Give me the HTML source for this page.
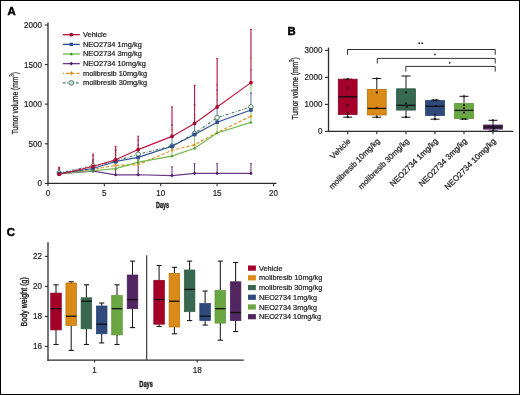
<!DOCTYPE html>
<html><head><meta charset="utf-8"><style>
html,body{margin:0;padding:0;background:#fff;}
body{width:520px;height:395px;overflow:hidden;}
svg{display:block;font-family:"Liberation Sans", sans-serif;}
</style></head><body>
<svg width="520" height="395" viewBox="0 0 520 395">
<rect x="0" y="0" width="520" height="395" fill="#fff"/>
<line x1="48" y1="22.5" x2="48" y2="184" stroke="#2c2c2c" stroke-width="1.3" />
<line x1="47.4" y1="183.4" x2="276.5" y2="183.4" stroke="#2c2c2c" stroke-width="1.3" />
<line x1="44.8" y1="183.4" x2="48" y2="183.4" stroke="#2c2c2c" stroke-width="1.1" />
<line x1="44.8" y1="143.8" x2="48" y2="143.8" stroke="#2c2c2c" stroke-width="1.1" />
<line x1="44.8" y1="104.1" x2="48" y2="104.1" stroke="#2c2c2c" stroke-width="1.1" />
<line x1="44.8" y1="64.6" x2="48" y2="64.6" stroke="#2c2c2c" stroke-width="1.1" />
<line x1="44.8" y1="25.0" x2="48" y2="25.0" stroke="#2c2c2c" stroke-width="1.1" />
<line x1="47.92" y1="183.4" x2="47.92" y2="186.3" stroke="#2c2c2c" stroke-width="1.1" />
<line x1="104.32" y1="183.4" x2="104.32" y2="186.3" stroke="#2c2c2c" stroke-width="1.1" />
<line x1="160.72" y1="183.4" x2="160.72" y2="186.3" stroke="#2c2c2c" stroke-width="1.1" />
<line x1="217.12" y1="183.4" x2="217.12" y2="186.3" stroke="#2c2c2c" stroke-width="1.1" />
<line x1="273.52" y1="183.4" x2="273.52" y2="186.3" stroke="#2c2c2c" stroke-width="1.1" />
<line x1="59.2" y1="173.8" x2="59.2" y2="168" stroke="#603278" stroke-width="1.0" />
<line x1="58.2" y1="168" x2="60.2" y2="168" stroke="#6a3a86" stroke-width="1.0" />
<line x1="93.03999999999999" y1="171.2" x2="93.03999999999999" y2="160" stroke="#603278" stroke-width="1.0" />
<line x1="92.03999999999999" y1="160" x2="94.03999999999999" y2="160" stroke="#6a3a86" stroke-width="1.0" />
<line x1="115.6" y1="174.8" x2="115.6" y2="163" stroke="#603278" stroke-width="1.0" />
<line x1="114.6" y1="163" x2="116.6" y2="163" stroke="#6a3a86" stroke-width="1.0" />
<line x1="138.16" y1="174.8" x2="138.16" y2="160" stroke="#603278" stroke-width="1.0" />
<line x1="137.16" y1="160" x2="139.16" y2="160" stroke="#6a3a86" stroke-width="1.0" />
<line x1="172.0" y1="175.6" x2="172.0" y2="166.9" stroke="#603278" stroke-width="1.0" />
<line x1="171.0" y1="166.9" x2="173.0" y2="166.9" stroke="#6a3a86" stroke-width="1.0" />
<line x1="194.56" y1="173.4" x2="194.56" y2="163.7" stroke="#603278" stroke-width="1.0" />
<line x1="193.56" y1="163.7" x2="195.56" y2="163.7" stroke="#6a3a86" stroke-width="1.0" />
<line x1="217.12" y1="173.4" x2="217.12" y2="163.7" stroke="#603278" stroke-width="1.0" />
<line x1="216.12" y1="163.7" x2="218.12" y2="163.7" stroke="#6a3a86" stroke-width="1.0" />
<line x1="250.95999999999998" y1="173.4" x2="250.95999999999998" y2="163.7" stroke="#603278" stroke-width="1.0" />
<line x1="249.95999999999998" y1="163.7" x2="251.95999999999998" y2="163.7" stroke="#6a3a86" stroke-width="1.0" />
<line x1="58.300000000000004" y1="170" x2="60.1" y2="170" stroke="#e0901a" stroke-width="1.0" />
<line x1="92.13999999999999" y1="160" x2="93.94" y2="160" stroke="#e0901a" stroke-width="1.0" />
<line x1="114.69999999999999" y1="152" x2="116.5" y2="152" stroke="#e0901a" stroke-width="1.0" />
<line x1="138.16" y1="164.6" x2="138.16" y2="162.4" stroke="#e0901a" stroke-width="1.0" />
<line x1="137.26" y1="148" x2="139.06" y2="148" stroke="#e0901a" stroke-width="1.0" />
<line x1="171.1" y1="130" x2="172.9" y2="130" stroke="#e0901a" stroke-width="1.0" />
<line x1="193.66" y1="115" x2="195.46" y2="115" stroke="#e0901a" stroke-width="1.0" />
<line x1="216.22" y1="94" x2="218.02" y2="94" stroke="#e0901a" stroke-width="1.0" />
<line x1="250.05999999999997" y1="58" x2="251.85999999999999" y2="58" stroke="#e0901a" stroke-width="1.0" />
<line x1="58.300000000000004" y1="168" x2="60.1" y2="168" stroke="#4a7a62" stroke-width="1.0" />
<line x1="92.13999999999999" y1="156" x2="93.94" y2="156" stroke="#4a7a62" stroke-width="1.0" />
<line x1="114.69999999999999" y1="150" x2="116.5" y2="150" stroke="#4a7a62" stroke-width="1.0" />
<line x1="137.26" y1="140" x2="139.06" y2="140" stroke="#4a7a62" stroke-width="1.0" />
<line x1="171.1" y1="125" x2="172.9" y2="125" stroke="#4a7a62" stroke-width="1.0" />
<line x1="193.66" y1="105" x2="195.46" y2="105" stroke="#4a7a62" stroke-width="1.0" />
<line x1="216.22" y1="85" x2="218.02" y2="85" stroke="#4a7a62" stroke-width="1.0" />
<line x1="250.95999999999998" y1="84.7" x2="250.95999999999998" y2="82.89999999999999" stroke="#6a9080" stroke-width="1.0" />
<line x1="250.05999999999997" y1="70" x2="251.85999999999999" y2="70" stroke="#4a7a62" stroke-width="1.0" />
<line x1="58.300000000000004" y1="170" x2="60.1" y2="170" stroke="#72b84a" stroke-width="1.0" />
<line x1="93.03999999999999" y1="170.8" x2="93.03999999999999" y2="168.8" stroke="#8cc870" stroke-width="1.0" />
<line x1="92.13999999999999" y1="162" x2="93.94" y2="162" stroke="#72b84a" stroke-width="1.0" />
<line x1="115.6" y1="168.6" x2="115.6" y2="161.8" stroke="#8cc870" stroke-width="1.0" />
<line x1="114.69999999999999" y1="155" x2="116.5" y2="155" stroke="#72b84a" stroke-width="1.0" />
<line x1="138.16" y1="162.1" x2="138.16" y2="157.70000000000002" stroke="#8cc870" stroke-width="1.0" />
<line x1="137.26" y1="150" x2="139.06" y2="150" stroke="#72b84a" stroke-width="1.0" />
<line x1="172.0" y1="156.1" x2="172.0" y2="146.5" stroke="#8cc870" stroke-width="1.0" />
<line x1="171.1" y1="135" x2="172.9" y2="135" stroke="#72b84a" stroke-width="1.0" />
<line x1="194.56" y1="148.3" x2="194.56" y2="134.8" stroke="#8cc870" stroke-width="1.0" />
<line x1="193.66" y1="118" x2="195.46" y2="118" stroke="#72b84a" stroke-width="1.0" />
<line x1="217.12" y1="133.0" x2="217.12" y2="122.5" stroke="#8cc870" stroke-width="1.0" />
<line x1="216.22" y1="100" x2="218.02" y2="100" stroke="#72b84a" stroke-width="1.0" />
<line x1="250.95999999999998" y1="92.7" x2="250.95999999999998" y2="85" stroke="#8cc870" stroke-width="1.0" />
<line x1="250.95999999999998" y1="122.4" x2="250.95999999999998" y2="110.3" stroke="#8cc870" stroke-width="1.0" />
<line x1="250.05999999999997" y1="85" x2="251.85999999999999" y2="85" stroke="#72b84a" stroke-width="1.0" />
<line x1="58.300000000000004" y1="169" x2="60.1" y2="169" stroke="#2d4f8f" stroke-width="1.0" />
<line x1="93.03999999999999" y1="168.5" x2="93.03999999999999" y2="166.8" stroke="#5a76aa" stroke-width="1.0" />
<line x1="92.13999999999999" y1="160" x2="93.94" y2="160" stroke="#2d4f8f" stroke-width="1.0" />
<line x1="115.6" y1="161.5" x2="115.6" y2="160.10000000000002" stroke="#5a76aa" stroke-width="1.0" />
<line x1="114.69999999999999" y1="150" x2="116.5" y2="150" stroke="#2d4f8f" stroke-width="1.0" />
<line x1="138.16" y1="157.4" x2="138.16" y2="149.9" stroke="#5a76aa" stroke-width="1.0" />
<line x1="137.26" y1="145" x2="139.06" y2="145" stroke="#2d4f8f" stroke-width="1.0" />
<line x1="172.0" y1="146.2" x2="172.0" y2="136.70000000000002" stroke="#5a76aa" stroke-width="1.0" />
<line x1="171.1" y1="125" x2="172.9" y2="125" stroke="#2d4f8f" stroke-width="1.0" />
<line x1="194.56" y1="134.5" x2="194.56" y2="123.7" stroke="#5a76aa" stroke-width="1.0" />
<line x1="193.66" y1="105" x2="195.46" y2="105" stroke="#2d4f8f" stroke-width="1.0" />
<line x1="217.12" y1="122.2" x2="217.12" y2="107.3" stroke="#5a76aa" stroke-width="1.0" />
<line x1="216.22" y1="90" x2="218.02" y2="90" stroke="#2d4f8f" stroke-width="1.0" />
<line x1="250.95999999999998" y1="110.0" x2="250.95999999999998" y2="93" stroke="#5a76aa" stroke-width="1.0" />
<line x1="250.05999999999997" y1="93" x2="251.85999999999999" y2="93" stroke="#2d4f8f" stroke-width="1.0" />
<line x1="59.2" y1="174.3" x2="59.2" y2="167.3" stroke="#bc1a48" stroke-width="1.15" />
<line x1="58.2" y1="167.3" x2="60.2" y2="167.3" stroke="#c0143c" stroke-width="1.0" />
<line x1="93.03999999999999" y1="166.5" x2="93.03999999999999" y2="154.2" stroke="#bc1a48" stroke-width="1.15" />
<line x1="92.03999999999999" y1="154.2" x2="94.03999999999999" y2="154.2" stroke="#c0143c" stroke-width="1.0" />
<line x1="115.6" y1="159.8" x2="115.6" y2="146.3" stroke="#bc1a48" stroke-width="1.15" />
<line x1="114.6" y1="146.3" x2="116.6" y2="146.3" stroke="#c0143c" stroke-width="1.0" />
<line x1="138.16" y1="149.6" x2="138.16" y2="136.2" stroke="#bc1a48" stroke-width="1.15" />
<line x1="137.16" y1="136.2" x2="139.16" y2="136.2" stroke="#c0143c" stroke-width="1.0" />
<line x1="172.0" y1="136.4" x2="172.0" y2="106.9" stroke="#bc1a48" stroke-width="1.15" />
<line x1="171.0" y1="106.9" x2="173.0" y2="106.9" stroke="#c0143c" stroke-width="1.0" />
<line x1="194.56" y1="123.4" x2="194.56" y2="85.3" stroke="#bc1a48" stroke-width="1.15" />
<line x1="193.56" y1="85.3" x2="195.56" y2="85.3" stroke="#c0143c" stroke-width="1.0" />
<line x1="217.12" y1="107.0" x2="217.12" y2="58.7" stroke="#bc1a48" stroke-width="1.15" />
<line x1="216.12" y1="58.7" x2="218.12" y2="58.7" stroke="#c0143c" stroke-width="1.0" />
<line x1="250.95999999999998" y1="82.6" x2="250.95999999999998" y2="29.5" stroke="#bc1a48" stroke-width="1.15" />
<line x1="249.95999999999998" y1="29.5" x2="251.95999999999998" y2="29.5" stroke="#c0143c" stroke-width="1.0" />
<polyline points="59.20,173.8 93.04,171.2 115.60,174.8 138.16,174.8 172.00,175.6 194.56,173.4 217.12,173.4 250.96,173.4" fill="none" stroke="#6a3a86" stroke-width="1.15"/>
<path d="M57.5,173.8 L59.2,172.0 L60.900000000000006,173.8 L59.2,175.60000000000002Z" fill="#4a1a62"/>
<path d="M91.33999999999999,171.2 L93.03999999999999,169.39999999999998 L94.74,171.2 L93.03999999999999,173.0Z" fill="#4a1a62"/>
<path d="M113.89999999999999,174.8 L115.6,173.0 L117.3,174.8 L115.6,176.60000000000002Z" fill="#4a1a62"/>
<path d="M136.46,174.8 L138.16,173.0 L139.85999999999999,174.8 L138.16,176.60000000000002Z" fill="#4a1a62"/>
<path d="M170.3,175.6 L172.0,173.79999999999998 L173.7,175.6 L172.0,177.4Z" fill="#4a1a62"/>
<path d="M192.86,173.4 L194.56,171.6 L196.26,173.4 L194.56,175.20000000000002Z" fill="#4a1a62"/>
<path d="M215.42000000000002,173.4 L217.12,171.6 L218.82,173.4 L217.12,175.20000000000002Z" fill="#4a1a62"/>
<path d="M249.26,173.4 L250.95999999999998,171.6 L252.65999999999997,173.4 L250.95999999999998,175.20000000000002Z" fill="#4a1a62"/>
<polyline points="59.20,173.8 93.04,169.4 115.60,165.4 138.16,164.6 172.00,150.3 194.56,144.9 217.12,132.5 250.96,116.3" fill="none" stroke="#e0901a" stroke-width="1.15" stroke-dasharray="3.2,2.05"/>
<path d="M57.7,173.8 L59.2,172.3 L60.7,173.8 L59.2,175.3Z" fill="#e0901a"/>
<path d="M91.53999999999999,169.4 L93.03999999999999,167.9 L94.53999999999999,169.4 L93.03999999999999,170.9Z" fill="#e0901a"/>
<path d="M114.1,165.4 L115.6,163.9 L117.1,165.4 L115.6,166.9Z" fill="#e0901a"/>
<path d="M136.66,164.6 L138.16,163.1 L139.66,164.6 L138.16,166.1Z" fill="#e0901a"/>
<path d="M170.5,150.3 L172.0,148.8 L173.5,150.3 L172.0,151.8Z" fill="#e0901a"/>
<path d="M193.06,144.9 L194.56,143.4 L196.06,144.9 L194.56,146.4Z" fill="#e0901a"/>
<path d="M215.62,132.5 L217.12,131.0 L218.62,132.5 L217.12,134.0Z" fill="#e0901a"/>
<path d="M249.45999999999998,116.3 L250.95999999999998,114.8 L252.45999999999998,116.3 L250.95999999999998,117.8Z" fill="#e0901a"/>
<polyline points="59.20,173.0 93.04,165.9 115.60,161.0 138.16,154.2 172.00,146.0 194.56,133.5 217.12,117.6 250.96,106.9" fill="none" stroke="#4a7a62" stroke-width="1.15" stroke-dasharray="2.6,1.6,0.8,1.6"/>
<circle cx="59.2" cy="173.0" r="2.3" fill="#eef4f0" stroke="#4a7a62" stroke-width="0.9"/>
<circle cx="93.03999999999999" cy="165.9" r="2.3" fill="#eef4f0" stroke="#4a7a62" stroke-width="0.9"/>
<circle cx="115.6" cy="161.0" r="2.3" fill="#eef4f0" stroke="#4a7a62" stroke-width="0.9"/>
<circle cx="138.16" cy="154.2" r="2.3" fill="#eef4f0" stroke="#4a7a62" stroke-width="0.9"/>
<circle cx="172.0" cy="146.0" r="2.3" fill="#eef4f0" stroke="#4a7a62" stroke-width="0.9"/>
<circle cx="194.56" cy="133.5" r="2.3" fill="#eef4f0" stroke="#4a7a62" stroke-width="0.9"/>
<circle cx="217.12" cy="117.6" r="2.3" fill="#eef4f0" stroke="#4a7a62" stroke-width="0.9"/>
<circle cx="250.95999999999998" cy="106.9" r="2.3" fill="#eef4f0" stroke="#4a7a62" stroke-width="0.9"/>
<polyline points="59.20,173.8 93.04,170.8 115.60,168.6 138.16,162.1 172.00,156.1 194.56,148.3 217.12,133.0 250.96,122.4" fill="none" stroke="#72b84a" stroke-width="1.15"/>
<path d="M57.6,175.0 L59.2,172.20000000000002 L60.800000000000004,175.0Z" fill="#4a9a30"/>
<path d="M91.44,172.0 L93.03999999999999,169.20000000000002 L94.63999999999999,172.0Z" fill="#4a9a30"/>
<path d="M114.0,169.79999999999998 L115.6,167.0 L117.19999999999999,169.79999999999998Z" fill="#4a9a30"/>
<path d="M136.56,163.29999999999998 L138.16,160.5 L139.76,163.29999999999998Z" fill="#4a9a30"/>
<path d="M170.4,157.29999999999998 L172.0,154.5 L173.6,157.29999999999998Z" fill="#4a9a30"/>
<path d="M192.96,149.5 L194.56,146.70000000000002 L196.16,149.5Z" fill="#4a9a30"/>
<path d="M215.52,134.2 L217.12,131.4 L218.72,134.2Z" fill="#4a9a30"/>
<path d="M249.35999999999999,123.60000000000001 L250.95999999999998,120.80000000000001 L252.55999999999997,123.60000000000001Z" fill="#4a9a30"/>
<polyline points="59.20,173.6 93.04,168.5 115.60,161.5 138.16,157.4 172.00,146.2 194.56,134.5 217.12,122.2 250.96,110.0" fill="none" stroke="#2d4f8f" stroke-width="1.15"/>
<rect x="57.400000000000006" y="171.79999999999998" width="3.6" height="3.6" fill="#2d4f8f"/>
<rect x="91.24" y="166.7" width="3.6" height="3.6" fill="#2d4f8f"/>
<rect x="113.8" y="159.7" width="3.6" height="3.6" fill="#2d4f8f"/>
<rect x="136.35999999999999" y="155.6" width="3.6" height="3.6" fill="#2d4f8f"/>
<rect x="170.2" y="144.39999999999998" width="3.6" height="3.6" fill="#2d4f8f"/>
<rect x="192.76" y="132.7" width="3.6" height="3.6" fill="#2d4f8f"/>
<rect x="215.32" y="120.4" width="3.6" height="3.6" fill="#2d4f8f"/>
<rect x="249.15999999999997" y="108.2" width="3.6" height="3.6" fill="#2d4f8f"/>
<polyline points="59.20,174.3 93.04,166.5 115.60,159.8 138.16,149.6 172.00,136.4 194.56,123.4 217.12,107.0 250.96,82.6" fill="none" stroke="#c0143c" stroke-width="1.15"/>
<circle cx="59.2" cy="174.3" r="1.9" fill="#ac0430"/>
<circle cx="93.03999999999999" cy="166.5" r="1.9" fill="#ac0430"/>
<circle cx="115.6" cy="159.8" r="1.9" fill="#ac0430"/>
<circle cx="138.16" cy="149.6" r="1.9" fill="#ac0430"/>
<circle cx="172.0" cy="136.4" r="1.9" fill="#ac0430"/>
<circle cx="194.56" cy="123.4" r="1.9" fill="#ac0430"/>
<circle cx="217.12" cy="107.0" r="1.9" fill="#ac0430"/>
<circle cx="250.95999999999998" cy="82.6" r="1.9" fill="#ac0430"/>
<line x1="62.8" y1="34.7" x2="79.8" y2="34.7" stroke="#c0143c" stroke-width="1.35"/>
<circle cx="71.3" cy="34.7" r="1.9" fill="#ac0430"/>
<line x1="62.8" y1="44.4" x2="79.8" y2="44.4" stroke="#2d4f8f" stroke-width="1.35"/>
<rect x="69.6" y="42.699999999999996" width="3.4" height="3.4" fill="#2d4f8f"/>
<line x1="62.8" y1="54.0" x2="79.8" y2="54.0" stroke="#72b84a" stroke-width="1.35"/>
<path d="M69.6,55.3 L71.3,52.3 L73.0,55.3Z" fill="#3f8f2a"/>
<line x1="62.8" y1="63.6" x2="79.8" y2="63.6" stroke="#6a3a86" stroke-width="1.35"/>
<path d="M69.6,63.6 L71.3,61.800000000000004 L73.0,63.6 L71.3,65.4Z" fill="#4a1a62"/>
<line x1="62.8" y1="73.3" x2="79.8" y2="73.3" stroke="#e0901a" stroke-width="1.35" stroke-dasharray="3.2,2.05" stroke-dashoffset="2.05"/>
<path d="M69.7,73.3 L71.3,71.1 L72.89999999999999,73.3 L71.3,75.5Z" fill="#e0901a"/>
<line x1="62.8" y1="82.9" x2="79.8" y2="82.9" stroke="#4a7a62" stroke-width="1.35" stroke-dasharray="2.6,1.6,0.8,1.6"/>
<circle cx="71.3" cy="82.9" r="2.4" fill="#c8dccf" stroke="#4a7a62" stroke-width="0.9"/>
<line x1="328.5" y1="47.6" x2="328.5" y2="132" stroke="#2c2c2c" stroke-width="1.3" />
<line x1="327.9" y1="131.4" x2="513.4" y2="131.4" stroke="#2c2c2c" stroke-width="1.3" />
<line x1="325" y1="131.4" x2="328.5" y2="131.4" stroke="#2c2c2c" stroke-width="1.1" />
<line x1="325" y1="104.4" x2="328.5" y2="104.4" stroke="#2c2c2c" stroke-width="1.1" />
<line x1="325" y1="77.4" x2="328.5" y2="77.4" stroke="#2c2c2c" stroke-width="1.1" />
<line x1="325" y1="50.4" x2="328.5" y2="50.4" stroke="#2c2c2c" stroke-width="1.1" />
<line x1="347.7" y1="131.4" x2="347.7" y2="134.2" stroke="#2c2c2c" stroke-width="1.1" />
<line x1="376.8" y1="131.4" x2="376.8" y2="134.2" stroke="#2c2c2c" stroke-width="1.1" />
<line x1="406.0" y1="131.4" x2="406.0" y2="134.2" stroke="#2c2c2c" stroke-width="1.1" />
<line x1="435.0" y1="131.4" x2="435.0" y2="134.2" stroke="#2c2c2c" stroke-width="1.1" />
<line x1="464.0" y1="131.4" x2="464.0" y2="134.2" stroke="#2c2c2c" stroke-width="1.1" />
<line x1="493.0" y1="131.4" x2="493.0" y2="134.2" stroke="#2c2c2c" stroke-width="1.1" />
<line x1="347.7" y1="79.2" x2="347.7" y2="79.2" stroke="#1a1a1a" stroke-width="1.0" />
<line x1="347.7" y1="114.5" x2="347.7" y2="117.2" stroke="#1a1a1a" stroke-width="1.0" />
<line x1="343.2" y1="79.2" x2="352.2" y2="79.2" stroke="#1a1a1a" stroke-width="1.05" />
<line x1="343.2" y1="117.2" x2="352.2" y2="117.2" stroke="#1a1a1a" stroke-width="1.05" />
<rect x="338.3" y="79.2" width="18.8" height="35.3" fill="#a3002a" stroke="#8a0022" stroke-width="0.8"/>
<line x1="338.3" y1="96.8" x2="357.09999999999997" y2="96.8" stroke="#111" stroke-width="1.3" />
<circle cx="347.7" cy="79.2" r="1.1" fill="#111"/>
<circle cx="347.7" cy="88.1" r="1.1" fill="#111"/>
<circle cx="347.7" cy="105.3" r="1.1" fill="#111"/>
<circle cx="347.7" cy="113.5" r="1.1" fill="#111"/>
<circle cx="347.7" cy="117.2" r="1.1" fill="#111"/>
<line x1="376.8" y1="78.5" x2="376.8" y2="89.5" stroke="#1a1a1a" stroke-width="1.0" />
<line x1="376.8" y1="115.0" x2="376.8" y2="117.2" stroke="#1a1a1a" stroke-width="1.0" />
<line x1="372.3" y1="78.5" x2="381.3" y2="78.5" stroke="#1a1a1a" stroke-width="1.05" />
<line x1="372.3" y1="117.2" x2="381.3" y2="117.2" stroke="#1a1a1a" stroke-width="1.05" />
<rect x="367.40000000000003" y="89.5" width="18.8" height="25.5" fill="#da8a16" stroke="#b87010" stroke-width="0.8"/>
<line x1="367.40000000000003" y1="108.4" x2="386.2" y2="108.4" stroke="#111" stroke-width="1.3" />
<circle cx="376.8" cy="92.4" r="1.1" fill="#111"/>
<circle cx="376.8" cy="107.8" r="1.1" fill="#111"/>
<circle cx="376.8" cy="78.5" r="1.1" fill="#111"/>
<circle cx="376.8" cy="117.2" r="1.1" fill="#111"/>
<line x1="406.0" y1="76.0" x2="406.0" y2="88.8" stroke="#1a1a1a" stroke-width="1.0" />
<line x1="406.0" y1="110.1" x2="406.0" y2="117.2" stroke="#1a1a1a" stroke-width="1.0" />
<line x1="401.5" y1="76.0" x2="410.5" y2="76.0" stroke="#1a1a1a" stroke-width="1.05" />
<line x1="401.5" y1="117.2" x2="410.5" y2="117.2" stroke="#1a1a1a" stroke-width="1.05" />
<rect x="396.6" y="88.8" width="18.8" height="21.299999999999997" fill="#386850" stroke="#2a5a40" stroke-width="0.8"/>
<line x1="396.6" y1="105.3" x2="415.4" y2="105.3" stroke="#111" stroke-width="1.3" />
<circle cx="406.0" cy="92.4" r="1.1" fill="#111"/>
<circle cx="406.0" cy="103.3" r="1.1" fill="#111"/>
<circle cx="406.8" cy="107.0" r="1.1" fill="#111"/>
<circle cx="406.0" cy="117.2" r="1.1" fill="#111"/>
<line x1="435.0" y1="100.2" x2="435.0" y2="100.6" stroke="#1a1a1a" stroke-width="1.0" />
<line x1="435.0" y1="115.5" x2="435.0" y2="119.2" stroke="#1a1a1a" stroke-width="1.0" />
<line x1="430.5" y1="100.2" x2="439.5" y2="100.2" stroke="#1a1a1a" stroke-width="1.05" />
<line x1="430.5" y1="119.2" x2="439.5" y2="119.2" stroke="#1a1a1a" stroke-width="1.05" />
<rect x="425.6" y="100.6" width="18.8" height="14.900000000000006" fill="#2e4a7a" stroke="#22407a" stroke-width="0.8"/>
<line x1="425.6" y1="106.3" x2="444.4" y2="106.3" stroke="#111" stroke-width="1.3" />
<circle cx="433.5" cy="100.2" r="1.1" fill="#111"/>
<circle cx="436.5" cy="100.2" r="1.1" fill="#111"/>
<circle cx="435.8" cy="106.0" r="1.1" fill="#111"/>
<circle cx="435.0" cy="114.6" r="1.1" fill="#111"/>
<circle cx="435.0" cy="119.2" r="1.1" fill="#111"/>
<line x1="464.0" y1="96.3" x2="464.0" y2="103.6" stroke="#1a1a1a" stroke-width="1.0" />
<line x1="464.0" y1="118.6" x2="464.0" y2="119.0" stroke="#1a1a1a" stroke-width="1.0" />
<line x1="459.5" y1="96.3" x2="468.5" y2="96.3" stroke="#1a1a1a" stroke-width="1.05" />
<line x1="459.5" y1="119.0" x2="468.5" y2="119.0" stroke="#1a1a1a" stroke-width="1.05" />
<rect x="454.6" y="103.6" width="18.8" height="15.0" fill="#6aa642" stroke="#5a9636" stroke-width="0.8"/>
<line x1="454.6" y1="110.4" x2="473.4" y2="110.4" stroke="#111" stroke-width="1.3" />
<circle cx="464.0" cy="96.3" r="1.1" fill="#111"/>
<circle cx="464.0" cy="105.0" r="1.1" fill="#111"/>
<circle cx="464.0" cy="108.3" r="1.1" fill="#111"/>
<circle cx="464.0" cy="112.6" r="1.1" fill="#111"/>
<circle cx="462.6" cy="119.0" r="1.1" fill="#111"/>
<circle cx="465.4" cy="119.0" r="1.1" fill="#111"/>
<line x1="493.0" y1="120.3" x2="493.0" y2="125.0" stroke="#1a1a1a" stroke-width="1.0" />
<line x1="493.0" y1="129.1" x2="493.0" y2="131.0" stroke="#1a1a1a" stroke-width="1.0" />
<line x1="488.5" y1="120.3" x2="497.5" y2="120.3" stroke="#1a1a1a" stroke-width="1.05" />
<line x1="488.5" y1="131.0" x2="497.5" y2="131.0" stroke="#1a1a1a" stroke-width="1.05" />
<rect x="483.6" y="125.0" width="18.8" height="4.099999999999994" fill="#522660" stroke="#45205a" stroke-width="0.8"/>
<line x1="483.6" y1="127.0" x2="502.4" y2="127.0" stroke="#111" stroke-width="1.3" />
<circle cx="493.0" cy="120.3" r="1.1" fill="#111"/>
<circle cx="493.0" cy="126.0" r="1.1" fill="#111"/>
<circle cx="494.0" cy="128.6" r="1.1" fill="#111"/>
<circle cx="493.0" cy="130.5" r="1.1" fill="#111"/>
<path d="M347.5,54.8 L347.5,49.5 L495.2,49.5 L495.2,54.8" fill="none" stroke="#262626" stroke-width="0.95"/>
<path d="M377.3,63.5 L377.3,58.4 L495.2,58.4 L495.2,63.5" fill="none" stroke="#262626" stroke-width="0.95"/>
<path d="M405.8,71.6 L405.8,66.4 L495.2,66.4 L495.2,71.6" fill="none" stroke="#262626" stroke-width="0.95"/>
<circle cx="419.3" cy="43.2" r="0.85" fill="#111"/>
<circle cx="422.2" cy="43.2" r="0.85" fill="#111"/>
<circle cx="435.0" cy="54.4" r="0.85" fill="#111"/>
<circle cx="449.7" cy="62.8" r="0.85" fill="#111"/>
<line x1="48" y1="242.3" x2="48" y2="360.8" stroke="#2c2c2c" stroke-width="1.3" />
<line x1="47.4" y1="360.2" x2="243.8" y2="360.2" stroke="#2c2c2c" stroke-width="1.3" />
<line x1="44.8" y1="346.4" x2="48" y2="346.4" stroke="#2c2c2c" stroke-width="1.1" />
<line x1="44.8" y1="316.4" x2="48" y2="316.4" stroke="#2c2c2c" stroke-width="1.1" />
<line x1="44.8" y1="286.4" x2="48" y2="286.4" stroke="#2c2c2c" stroke-width="1.1" />
<line x1="44.8" y1="256.4" x2="48" y2="256.4" stroke="#2c2c2c" stroke-width="1.1" />
<line x1="146.7" y1="255.2" x2="146.7" y2="360.2" stroke="#2c2c2c" stroke-width="1.1" />
<line x1="94.6" y1="360.2" x2="94.6" y2="362.6" stroke="#2c2c2c" stroke-width="1.1" />
<line x1="197.2" y1="360.2" x2="197.2" y2="362.6" stroke="#2c2c2c" stroke-width="1.1" />
<line x1="56.0" y1="284.8" x2="56.0" y2="293.1" stroke="#1a1a1a" stroke-width="1.05" />
<line x1="56.0" y1="329.9" x2="56.0" y2="344.5" stroke="#1a1a1a" stroke-width="1.05" />
<line x1="53.4" y1="284.8" x2="58.6" y2="284.8" stroke="#1a1a1a" stroke-width="1.1" />
<line x1="53.4" y1="344.5" x2="58.6" y2="344.5" stroke="#1a1a1a" stroke-width="1.1" />
<rect x="50.7" y="293.1" width="10.6" height="36.799999999999955" fill="#a3002a" stroke="#8a0022" stroke-width="0.7"/>
<line x1="50.7" y1="308.7" x2="61.3" y2="308.7" stroke="#111" stroke-width="1.3" />
<line x1="71.2" y1="281.8" x2="71.2" y2="283.0" stroke="#1a1a1a" stroke-width="1.05" />
<line x1="71.2" y1="325.4" x2="71.2" y2="350.4" stroke="#1a1a1a" stroke-width="1.05" />
<line x1="68.60000000000001" y1="281.8" x2="73.8" y2="281.8" stroke="#1a1a1a" stroke-width="1.1" />
<line x1="68.60000000000001" y1="350.4" x2="73.8" y2="350.4" stroke="#1a1a1a" stroke-width="1.1" />
<rect x="65.9" y="283.0" width="10.6" height="42.39999999999998" fill="#da8a16" stroke="#b87010" stroke-width="0.7"/>
<line x1="65.9" y1="316.2" x2="76.5" y2="316.2" stroke="#111" stroke-width="1.3" />
<line x1="86.4" y1="284.8" x2="86.4" y2="297.8" stroke="#1a1a1a" stroke-width="1.05" />
<line x1="86.4" y1="328.8" x2="86.4" y2="344.5" stroke="#1a1a1a" stroke-width="1.05" />
<line x1="83.80000000000001" y1="284.8" x2="89.0" y2="284.8" stroke="#1a1a1a" stroke-width="1.1" />
<line x1="83.80000000000001" y1="344.5" x2="89.0" y2="344.5" stroke="#1a1a1a" stroke-width="1.1" />
<rect x="81.10000000000001" y="297.8" width="10.6" height="31.0" fill="#386850" stroke="#2a5a40" stroke-width="0.7"/>
<line x1="81.10000000000001" y1="301.2" x2="91.7" y2="301.2" stroke="#111" stroke-width="1.3" />
<line x1="101.7" y1="303.0" x2="101.7" y2="306.0" stroke="#1a1a1a" stroke-width="1.05" />
<line x1="101.7" y1="333.8" x2="101.7" y2="342.9" stroke="#1a1a1a" stroke-width="1.05" />
<line x1="99.10000000000001" y1="303.0" x2="104.3" y2="303.0" stroke="#1a1a1a" stroke-width="1.1" />
<line x1="99.10000000000001" y1="342.9" x2="104.3" y2="342.9" stroke="#1a1a1a" stroke-width="1.1" />
<rect x="96.4" y="306.0" width="10.6" height="27.80000000000001" fill="#2e4a7a" stroke="#22407a" stroke-width="0.7"/>
<line x1="96.4" y1="324.2" x2="107.0" y2="324.2" stroke="#111" stroke-width="1.3" />
<line x1="117.0" y1="284.8" x2="117.0" y2="295.5" stroke="#1a1a1a" stroke-width="1.05" />
<line x1="117.0" y1="334.9" x2="117.0" y2="344.5" stroke="#1a1a1a" stroke-width="1.05" />
<line x1="114.4" y1="284.8" x2="119.6" y2="284.8" stroke="#1a1a1a" stroke-width="1.1" />
<line x1="114.4" y1="344.5" x2="119.6" y2="344.5" stroke="#1a1a1a" stroke-width="1.1" />
<rect x="111.7" y="295.5" width="10.6" height="39.39999999999998" fill="#6aa642" stroke="#5a9636" stroke-width="0.7"/>
<line x1="111.7" y1="308.7" x2="122.3" y2="308.7" stroke="#111" stroke-width="1.3" />
<line x1="132.5" y1="261.1" x2="132.5" y2="275.0" stroke="#1a1a1a" stroke-width="1.05" />
<line x1="132.5" y1="308.7" x2="132.5" y2="327.6" stroke="#1a1a1a" stroke-width="1.05" />
<line x1="129.9" y1="261.1" x2="135.1" y2="261.1" stroke="#1a1a1a" stroke-width="1.1" />
<line x1="129.9" y1="327.6" x2="135.1" y2="327.6" stroke="#1a1a1a" stroke-width="1.1" />
<rect x="127.2" y="275.0" width="10.6" height="33.69999999999999" fill="#522660" stroke="#45205a" stroke-width="0.7"/>
<line x1="127.2" y1="299.6" x2="137.8" y2="299.6" stroke="#111" stroke-width="1.3" />
<line x1="159.1" y1="265.5" x2="159.1" y2="280.3" stroke="#1a1a1a" stroke-width="1.05" />
<line x1="159.1" y1="324.2" x2="159.1" y2="326.5" stroke="#1a1a1a" stroke-width="1.05" />
<line x1="156.5" y1="265.5" x2="161.7" y2="265.5" stroke="#1a1a1a" stroke-width="1.1" />
<line x1="156.5" y1="326.5" x2="161.7" y2="326.5" stroke="#1a1a1a" stroke-width="1.1" />
<rect x="153.79999999999998" y="280.3" width="10.6" height="43.89999999999998" fill="#a3002a" stroke="#8a0022" stroke-width="0.7"/>
<line x1="153.79999999999998" y1="299.6" x2="164.4" y2="299.6" stroke="#111" stroke-width="1.3" />
<line x1="174.4" y1="267.3" x2="174.4" y2="273.3" stroke="#1a1a1a" stroke-width="1.05" />
<line x1="174.4" y1="327.0" x2="174.4" y2="333.8" stroke="#1a1a1a" stroke-width="1.05" />
<line x1="171.8" y1="267.3" x2="177.0" y2="267.3" stroke="#1a1a1a" stroke-width="1.1" />
<line x1="171.8" y1="333.8" x2="177.0" y2="333.8" stroke="#1a1a1a" stroke-width="1.1" />
<rect x="169.1" y="273.3" width="10.6" height="53.69999999999999" fill="#da8a16" stroke="#b87010" stroke-width="0.7"/>
<line x1="169.1" y1="301.2" x2="179.70000000000002" y2="301.2" stroke="#111" stroke-width="1.3" />
<line x1="189.6" y1="261.1" x2="189.6" y2="270.0" stroke="#1a1a1a" stroke-width="1.05" />
<line x1="189.6" y1="311.7" x2="189.6" y2="320.6" stroke="#1a1a1a" stroke-width="1.05" />
<line x1="187.0" y1="261.1" x2="192.2" y2="261.1" stroke="#1a1a1a" stroke-width="1.1" />
<line x1="187.0" y1="320.6" x2="192.2" y2="320.6" stroke="#1a1a1a" stroke-width="1.1" />
<rect x="184.29999999999998" y="270.0" width="10.6" height="41.69999999999999" fill="#386850" stroke="#2a5a40" stroke-width="0.7"/>
<line x1="184.29999999999998" y1="289.4" x2="194.9" y2="289.4" stroke="#111" stroke-width="1.3" />
<line x1="205.1" y1="291.0" x2="205.1" y2="303.5" stroke="#1a1a1a" stroke-width="1.05" />
<line x1="205.1" y1="320.6" x2="205.1" y2="325.1" stroke="#1a1a1a" stroke-width="1.05" />
<line x1="202.5" y1="291.0" x2="207.7" y2="291.0" stroke="#1a1a1a" stroke-width="1.1" />
<line x1="202.5" y1="325.1" x2="207.7" y2="325.1" stroke="#1a1a1a" stroke-width="1.1" />
<rect x="199.79999999999998" y="303.5" width="10.6" height="17.100000000000023" fill="#2e4a7a" stroke="#22407a" stroke-width="0.7"/>
<line x1="199.79999999999998" y1="316.2" x2="210.4" y2="316.2" stroke="#111" stroke-width="1.3" />
<line x1="220.3" y1="261.1" x2="220.3" y2="290.5" stroke="#1a1a1a" stroke-width="1.05" />
<line x1="220.3" y1="323.1" x2="220.3" y2="340.2" stroke="#1a1a1a" stroke-width="1.05" />
<line x1="217.70000000000002" y1="261.1" x2="222.9" y2="261.1" stroke="#1a1a1a" stroke-width="1.1" />
<line x1="217.70000000000002" y1="340.2" x2="222.9" y2="340.2" stroke="#1a1a1a" stroke-width="1.1" />
<rect x="215.0" y="290.5" width="10.6" height="32.60000000000002" fill="#6aa642" stroke="#5a9636" stroke-width="0.7"/>
<line x1="215.0" y1="308.7" x2="225.60000000000002" y2="308.7" stroke="#111" stroke-width="1.3" />
<line x1="235.6" y1="262.5" x2="235.6" y2="281.8" stroke="#1a1a1a" stroke-width="1.05" />
<line x1="235.6" y1="320.6" x2="235.6" y2="331.5" stroke="#1a1a1a" stroke-width="1.05" />
<line x1="233.0" y1="262.5" x2="238.2" y2="262.5" stroke="#1a1a1a" stroke-width="1.1" />
<line x1="233.0" y1="331.5" x2="238.2" y2="331.5" stroke="#1a1a1a" stroke-width="1.1" />
<rect x="230.29999999999998" y="281.8" width="10.6" height="38.80000000000001" fill="#522660" stroke="#45205a" stroke-width="0.7"/>
<line x1="230.29999999999998" y1="312.6" x2="240.9" y2="312.6" stroke="#111" stroke-width="1.3" />
<rect x="248" y="265.5" width="7.9" height="5.2" fill="#a3002a"/>
<rect x="248" y="275.22" width="7.9" height="5.2" fill="#da8a16"/>
<rect x="248" y="284.94" width="7.9" height="5.2" fill="#386850"/>
<rect x="248" y="294.66" width="7.9" height="5.2" fill="#2e4a7a"/>
<rect x="248" y="304.38" width="7.9" height="5.2" fill="#6aa642"/>
<rect x="248" y="314.1" width="7.9" height="5.2" fill="#522660"/>
<g style="filter:grayscale(1)">
<text x="7.4" y="15.4" font-size="11.3" text-anchor="start" fill="#000" font-weight="bold" stroke="#000" stroke-width="0.5">A</text>
<text transform="translate(41.9,186.4) scale(0.92,1)" font-size="8.8" text-anchor="end" fill="#1e1e1e" stroke="#1e1e1e" stroke-width="0.2" vector-effect="non-scaling-stroke">0</text>
<text transform="translate(41.9,146.8) scale(0.92,1)" font-size="8.8" text-anchor="end" fill="#1e1e1e" stroke="#1e1e1e" stroke-width="0.2" vector-effect="non-scaling-stroke">500</text>
<text transform="translate(41.9,107.1) scale(0.92,1)" font-size="8.8" text-anchor="end" fill="#1e1e1e" stroke="#1e1e1e" stroke-width="0.2" vector-effect="non-scaling-stroke">1000</text>
<text transform="translate(41.9,67.6) scale(0.92,1)" font-size="8.8" text-anchor="end" fill="#1e1e1e" stroke="#1e1e1e" stroke-width="0.2" vector-effect="non-scaling-stroke">1500</text>
<text transform="translate(41.9,28.0) scale(0.92,1)" font-size="8.8" text-anchor="end" fill="#1e1e1e" stroke="#1e1e1e" stroke-width="0.2" vector-effect="non-scaling-stroke">2000</text>
<text transform="translate(47.92,196.2) scale(0.92,1)" font-size="8.8" text-anchor="middle" fill="#1e1e1e" stroke="#1e1e1e" stroke-width="0.2" vector-effect="non-scaling-stroke">0</text>
<text transform="translate(104.32,196.2) scale(0.92,1)" font-size="8.8" text-anchor="middle" fill="#1e1e1e" stroke="#1e1e1e" stroke-width="0.2" vector-effect="non-scaling-stroke">5</text>
<text transform="translate(160.72,196.2) scale(0.92,1)" font-size="8.8" text-anchor="middle" fill="#1e1e1e" stroke="#1e1e1e" stroke-width="0.2" vector-effect="non-scaling-stroke">10</text>
<text transform="translate(217.12,196.2) scale(0.92,1)" font-size="8.8" text-anchor="middle" fill="#1e1e1e" stroke="#1e1e1e" stroke-width="0.2" vector-effect="non-scaling-stroke">15</text>
<text transform="translate(273.52,196.2) scale(0.92,1)" font-size="8.8" text-anchor="middle" fill="#1e1e1e" stroke="#1e1e1e" stroke-width="0.2" vector-effect="non-scaling-stroke">20</text>
<text id="daysA" transform="translate(162.5,208.4) scale(0.6,1)" font-size="9.1" font-weight="bold" text-anchor="middle" fill="#222" stroke="#222" stroke-width="0.35" vector-effect="non-scaling-stroke">Days</text>
<text id="ytA" transform="translate(17.9,103.1) rotate(-90) scale(0.71,1)" font-size="9.4" text-anchor="middle" fill="#222" stroke="#222" stroke-width="0.25" vector-effect="non-scaling-stroke">Tumor volume (mm<tspan font-size="6.4" dy="-3.8">3</tspan><tspan dy="3.8">)</tspan></text>
<text x="83" y="37.050000000000004" font-size="7.4" text-anchor="start" fill="#222" font-weight="normal" stroke="#222" stroke-width="0.22" >Vehicle</text>
<text x="83" y="46.75" font-size="7.4" text-anchor="start" fill="#222" font-weight="normal" stroke="#222" stroke-width="0.22" >NEO2734 1mg/kg</text>
<text x="83" y="56.35" font-size="7.4" text-anchor="start" fill="#222" font-weight="normal" stroke="#222" stroke-width="0.22" >NEO2734 3mg/kg</text>
<text x="83" y="65.95" font-size="7.4" text-anchor="start" fill="#222" font-weight="normal" stroke="#222" stroke-width="0.22" >NEO2734 10mg/kg</text>
<text x="83" y="75.64999999999999" font-size="7.4" text-anchor="start" fill="#222" font-weight="normal" stroke="#222" stroke-width="0.22" >molibresib 10mg/kg</text>
<text x="83" y="85.25" font-size="7.4" text-anchor="start" fill="#222" font-weight="normal" stroke="#222" stroke-width="0.22" >molibresib 30mg/kg</text>
<text x="287.5" y="35.1" font-size="11.3" text-anchor="start" fill="#000" font-weight="bold" stroke="#000" stroke-width="0.5">B</text>
<text transform="translate(322.6,134.4) scale(0.92,1)" font-size="8.8" text-anchor="end" fill="#1e1e1e" stroke="#1e1e1e" stroke-width="0.2" vector-effect="non-scaling-stroke">0</text>
<text transform="translate(322.6,107.4) scale(0.92,1)" font-size="8.8" text-anchor="end" fill="#1e1e1e" stroke="#1e1e1e" stroke-width="0.2" vector-effect="non-scaling-stroke">1000</text>
<text transform="translate(322.6,80.4) scale(0.92,1)" font-size="8.8" text-anchor="end" fill="#1e1e1e" stroke="#1e1e1e" stroke-width="0.2" vector-effect="non-scaling-stroke">2000</text>
<text transform="translate(322.6,53.4) scale(0.92,1)" font-size="8.8" text-anchor="end" fill="#1e1e1e" stroke="#1e1e1e" stroke-width="0.2" vector-effect="non-scaling-stroke">3000</text>
<text id="ytB" transform="translate(298.0,88.3) rotate(-90) scale(0.71,1)" font-size="9.4" text-anchor="middle" fill="#222" stroke="#222" stroke-width="0.25" vector-effect="non-scaling-stroke">Tumor volume (mm<tspan font-size="6.4" dy="-3.8">3</tspan><tspan dy="3.8">)</tspan></text>
<text transform="translate(351.2,141.6) rotate(-45)" font-size="7.85" text-anchor="end" fill="#1e1e1e" stroke="#1e1e1e" stroke-width="0.25">Vehicle</text>
<text transform="translate(380.3,141.6) rotate(-45)" font-size="7.85" text-anchor="end" fill="#1e1e1e" stroke="#1e1e1e" stroke-width="0.25">molibresib 10mg/kg</text>
<text transform="translate(409.5,141.6) rotate(-45)" font-size="7.85" text-anchor="end" fill="#1e1e1e" stroke="#1e1e1e" stroke-width="0.25">molibresib 30mg/kg</text>
<text transform="translate(438.5,141.6) rotate(-45)" font-size="8.1" text-anchor="end" fill="#1e1e1e" stroke="#1e1e1e" stroke-width="0.25">NEO2734 1mg/kg</text>
<text transform="translate(467.5,141.6) rotate(-45)" font-size="8.1" text-anchor="end" fill="#1e1e1e" stroke="#1e1e1e" stroke-width="0.25">NEO2734 3mg/kg</text>
<text transform="translate(496.5,141.6) rotate(-45)" font-size="8.1" text-anchor="end" fill="#1e1e1e" stroke="#1e1e1e" stroke-width="0.25">NEO2734 10mg/kg</text>
<text x="6.8" y="235.8" font-size="11.3" text-anchor="start" fill="#000" font-weight="bold" stroke="#000" stroke-width="0.5">C</text>
<text transform="translate(41.9,349.4) scale(0.92,1)" font-size="8.8" text-anchor="end" fill="#1e1e1e" stroke="#1e1e1e" stroke-width="0.2" vector-effect="non-scaling-stroke">16</text>
<text transform="translate(41.9,319.4) scale(0.92,1)" font-size="8.8" text-anchor="end" fill="#1e1e1e" stroke="#1e1e1e" stroke-width="0.2" vector-effect="non-scaling-stroke">18</text>
<text transform="translate(41.9,289.4) scale(0.92,1)" font-size="8.8" text-anchor="end" fill="#1e1e1e" stroke="#1e1e1e" stroke-width="0.2" vector-effect="non-scaling-stroke">20</text>
<text transform="translate(41.9,259.4) scale(0.92,1)" font-size="8.8" text-anchor="end" fill="#1e1e1e" stroke="#1e1e1e" stroke-width="0.2" vector-effect="non-scaling-stroke">22</text>
<text transform="translate(94.6,373.0) scale(0.92,1)" font-size="8.8" text-anchor="middle" fill="#1e1e1e" stroke="#1e1e1e" stroke-width="0.2" vector-effect="non-scaling-stroke">1</text>
<text transform="translate(197.2,373.0) scale(0.92,1)" font-size="8.8" text-anchor="middle" fill="#1e1e1e" stroke="#1e1e1e" stroke-width="0.2" vector-effect="non-scaling-stroke">18</text>
<text id="daysC" transform="translate(146.1,386.6) scale(0.62,1)" font-size="9.1" font-weight="bold" text-anchor="middle" fill="#222" stroke="#222" stroke-width="0.35" vector-effect="non-scaling-stroke">Days</text>
<text id="ytC" transform="translate(27.3,301.8) rotate(-90) scale(0.79,1)" font-size="9.0" text-anchor="middle" fill="#222" stroke="#222" stroke-width="0.35" vector-effect="non-scaling-stroke">Body weight (g)</text>
<text x="259" y="270.70000000000005" font-size="7.3" text-anchor="start" fill="#222" font-weight="normal" stroke="#222" stroke-width="0.22" >Vehicle</text>
<text x="259" y="280.4200000000001" font-size="7.3" text-anchor="start" fill="#222" font-weight="normal" stroke="#222" stroke-width="0.22" >molibresib 10mg/kg</text>
<text x="259" y="290.14000000000004" font-size="7.3" text-anchor="start" fill="#222" font-weight="normal" stroke="#222" stroke-width="0.22" >molibresib 30mg/kg</text>
<text x="259" y="299.86000000000007" font-size="7.3" text-anchor="start" fill="#222" font-weight="normal" stroke="#222" stroke-width="0.22" >NEO2734 1mg/kg</text>
<text x="259" y="309.58000000000004" font-size="7.3" text-anchor="start" fill="#222" font-weight="normal" stroke="#222" stroke-width="0.22" >NEO2734 3mg/kg</text>
<text x="259" y="319.30000000000007" font-size="7.3" text-anchor="start" fill="#222" font-weight="normal" stroke="#222" stroke-width="0.22" >NEO2734 10mg/kg</text>
</g>
<rect x="0.5" y="0.5" width="519" height="394" fill="none" stroke="#000" stroke-width="1"/>
</svg>
</body></html>
